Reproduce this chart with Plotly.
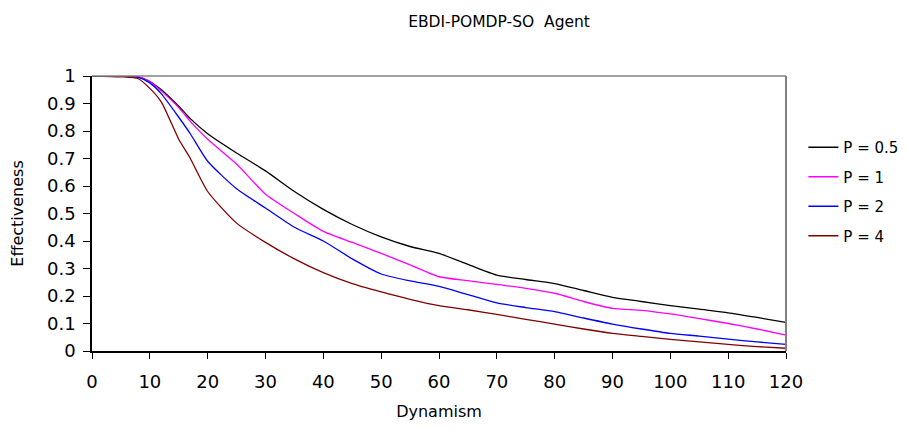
import plotly.graph_objects as go

x_vals = [0, 5, 8, 10, 12, 15, 17, 20, 25, 30, 35, 40, 45, 50, 55, 60, 65, 70, 75, 80, 85, 90, 95, 100, 105, 110, 115, 120]

p05 = [1, 1, 0.997, 0.98, 0.95, 0.89, 0.845, 0.79, 0.72, 0.655, 0.58, 0.515, 0.46, 0.415, 0.38, 0.355, 0.315, 0.276, 0.26, 0.245, 0.22, 0.195, 0.18, 0.165, 0.152, 0.139, 0.122, 0.104]
p1 = [1, 1, 0.997, 0.98, 0.945, 0.885, 0.835, 0.77, 0.68, 0.57, 0.5, 0.435, 0.395, 0.355, 0.313, 0.27, 0.256, 0.242, 0.228, 0.21, 0.18, 0.155, 0.148, 0.135, 0.118, 0.1, 0.08, 0.058]
p2 = [1, 1, 0.995, 0.975, 0.935, 0.85, 0.79, 0.69, 0.59, 0.52, 0.45, 0.4, 0.335, 0.28, 0.255, 0.235, 0.205, 0.175, 0.158, 0.143, 0.12, 0.098, 0.08, 0.064, 0.054, 0.043, 0.033, 0.024]
p4 = [1, 0.997, 0.99, 0.955, 0.905, 0.77, 0.7, 0.58, 0.465, 0.395, 0.335, 0.285, 0.245, 0.215, 0.188, 0.165, 0.15, 0.133, 0.115, 0.098, 0.08, 0.064, 0.053, 0.042, 0.033, 0.024, 0.016, 0.01]

series_names = ["P = 0.5", "P = 1", "P = 2", "P = 4"]
series_vals = [p05, p1, p2, p4]
colors = ["#000000", "#FF00FF", "#0000FF", "#800000"]

x_ticks = list(range(0, 121, 10))
y_ticks = [0, 0.1, 0.2, 0.3, 0.4, 0.5, 0.6, 0.7, 0.8, 0.9, 1]

FONT = "DejaVu Sans, Arial, sans-serif"

fig = go.Figure()
for i, (name, vals, c) in enumerate(zip(series_names, series_vals, colors)):
    fig.add_trace(go.Scatter(
        x=x_vals, y=vals, name=name, mode="lines",
        line=dict(color=c, width=1.3, shape="spline", smoothing=0.6),
        legendgroup=f"g{i}",
    ))

fig.update_layout(
    width=906, height=433,
    margin=dict(l=84, r=128, t=68, b=90, autoexpand=False),
    paper_bgcolor="white", plot_bgcolor="white",
    font=dict(family=FONT, color="black", size=15),
    title=dict(text="EBDI-POMDP-SO  Agent", x=0.542, xanchor="center", y=0.968, yanchor="middle",
               font=dict(size=15.5)),
    legend=dict(x=1.025, y=0.80, xanchor="left", yanchor="top", tracegroupgap=7,
                font=dict(size=15), itemwidth=30, bgcolor="rgba(0,0,0,0)"),
    xaxis=dict(range=[0, 120], tickvals=x_ticks, showgrid=False, zeroline=False,
               showline=True, linecolor="black", linewidth=1.5,
               ticks="outside", ticklen=6, tickcolor="black",
               tickfont=dict(size=18), ticklabelstandoff=8,
               title=dict(text="Dynamism", font=dict(size=16), standoff=14)),
    yaxis=dict(range=[0, 1], tickvals=y_ticks, showgrid=False, zeroline=False,
               showline=True, linecolor="black", linewidth=1.5,
               ticks="outside", ticklen=7, tickcolor="black",
               tickfont=dict(size=18), ticklabelstandoff=4,
               title=dict(text="Effectiveness", font=dict(size=16), standoff=19)),
    shapes=[
        dict(type="line", xref="paper", yref="paper", x0=0, x1=1, y0=1, y1=1,
             line=dict(color="#808080", width=1.5)),
        dict(type="line", xref="paper", yref="paper", x0=1, x1=1, y0=0, y1=1,
             line=dict(color="#808080", width=2)),
    ],
)

fig.write_html("out.html")
